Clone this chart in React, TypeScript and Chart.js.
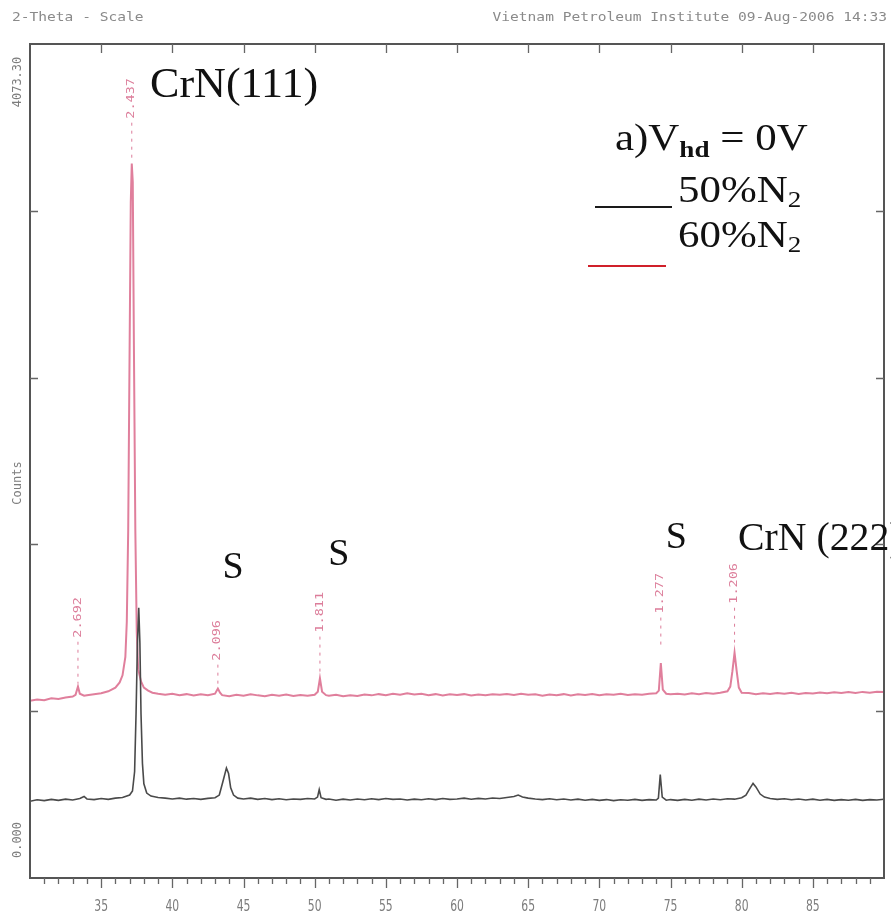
import React, { useEffect, useRef } from "react";
import { Chart, registerables } from "chart.js";

Chart.register(...registerables);

// ---------- data ----------
const X_MIN = 30;
const X_MAX = 90;
const Y_MIN = 0;
const Y_MAX = 4073.3;

const xMajorTicks = [35, 40, 45, 50, 55, 60, 65, 70, 75, 80, 85];
const yTickValues = [814.66, 1629.32, 2443.98, 3258.64];
const yBottomLabel = "0.000";
const yTopLabel = "4073.30";
const yAxisTitle = "Counts";
const headerLeft = "2-Theta - Scale";
const headerRight = "Vietnam Petroleum Institute 09-Aug-2006 14:33";

// 50% N2 (black trace): [2-theta, counts]
const series50: [number, number][] = [
  [30.0, 375], [30.5, 382], [31.0, 378], [31.5, 384], [32.0, 379], [32.5, 385],
  [33.0, 381], [33.5, 388], [33.8, 398], [34.0, 386], [34.5, 383], [35.0, 388],
  [35.5, 384], [36.0, 390], [36.5, 393], [37.0, 405], [37.2, 425], [37.35, 520],
  [37.45, 800], [37.55, 1150], [37.64, 1320], [37.72, 1150], [37.8, 800],
  [37.9, 560], [38.0, 460], [38.2, 415], [38.5, 400], [39.0, 393], [39.5, 390],
  [40.0, 386], [40.5, 390], [41.0, 385], [41.5, 388], [42.0, 384], [42.5, 389],
  [43.0, 392], [43.3, 405], [43.55, 470], [43.8, 537], [43.95, 510], [44.1, 440],
  [44.3, 405], [44.6, 390], [45.0, 386], [45.5, 390], [46.0, 384], [46.5, 388],
  [47.0, 383], [47.5, 387], [48.0, 382], [48.5, 386], [49.0, 384], [49.5, 388],
  [50.0, 386], [50.2, 395], [50.32, 432], [50.45, 392], [50.8, 384], [51.0, 386],
  [51.5, 380], [52.0, 385], [52.5, 381], [53.0, 386], [53.5, 382], [54.0, 387],
  [54.5, 383], [55.0, 388], [55.5, 384], [56.0, 386], [56.5, 381], [57.0, 385],
  [57.5, 382], [58.0, 387], [58.5, 383], [59.0, 388], [59.5, 384], [60.0, 386],
  [60.5, 390], [61.0, 385], [61.5, 389], [62.0, 386], [62.5, 391], [63.0, 388],
  [63.5, 393], [64.0, 398], [64.3, 405], [64.6, 396], [65.0, 390], [65.5, 386],
  [66.0, 383], [66.5, 387], [67.0, 382], [67.5, 386], [68.0, 381], [68.5, 385],
  [69.0, 380], [69.5, 384], [70.0, 379], [70.5, 383], [71.0, 378], [71.5, 382],
  [72.0, 380], [72.5, 384], [73.0, 379], [73.5, 383], [74.0, 381], [74.15, 390],
  [74.28, 505], [74.42, 395], [74.7, 380], [75.0, 383], [75.5, 379], [76.0, 384],
  [76.5, 380], [77.0, 385], [77.5, 381], [78.0, 386], [78.5, 382], [79.0, 387],
  [79.5, 385], [80.0, 392], [80.3, 405], [80.6, 440], [80.8, 462], [81.0, 445],
  [81.3, 410], [81.6, 395], [82.0, 388], [82.5, 384], [83.0, 387], [83.5, 382],
  [84.0, 386], [84.5, 381], [85.0, 385], [85.5, 380], [86.0, 384], [86.5, 379],
  [87.0, 383], [87.5, 380], [88.0, 384], [88.5, 379], [89.0, 383], [89.5, 381],
  [90.0, 385],
];

// 60% N2 (red trace): [2-theta, counts]
const series60: [number, number][] = [
  [30.0, 865], [30.5, 872], [31.0, 868], [31.5, 878], [32.0, 874], [32.5, 882],
  [33.0, 886], [33.2, 895], [33.37, 935], [33.5, 900], [33.8, 890], [34.0, 893],
  [34.5, 898], [35.0, 902], [35.5, 912], [36.0, 930], [36.3, 955], [36.5, 990],
  [36.7, 1080], [36.8, 1250], [36.9, 1700], [37.0, 2600], [37.08, 3300],
  [37.15, 3490], [37.22, 3400], [37.3, 2600], [37.4, 1700], [37.5, 1200],
  [37.6, 1020], [37.8, 960], [38.0, 930], [38.3, 915], [38.6, 905], [39.0, 900],
  [39.5, 895], [40.0, 900], [40.5, 893], [41.0, 898], [41.5, 892], [42.0, 897],
  [42.5, 893], [43.0, 900], [43.2, 925], [43.35, 905], [43.5, 893], [44.0, 888],
  [44.5, 895], [45.0, 890], [45.5, 897], [46.0, 892], [46.5, 888], [47.0, 895],
  [47.5, 890], [48.0, 896], [48.5, 889], [49.0, 894], [49.5, 890], [50.0, 895],
  [50.22, 910], [50.37, 975], [50.52, 910], [50.8, 893], [51.0, 890], [51.5, 895],
  [52.0, 888], [52.5, 893], [53.0, 889], [53.5, 896], [54.0, 892], [54.5, 898],
  [55.0, 893], [55.5, 900], [56.0, 895], [56.5, 902], [57.0, 896], [57.5, 900],
  [58.0, 893], [58.5, 898], [59.0, 892], [59.5, 897], [60.0, 894], [60.5, 898],
  [61.0, 891], [61.5, 896], [62.0, 893], [62.5, 898], [63.0, 895], [63.5, 899],
  [64.0, 894], [64.5, 900], [65.0, 895], [65.5, 897], [66.0, 890], [66.5, 896],
  [67.0, 893], [67.5, 898], [68.0, 892], [68.5, 897], [69.0, 894], [69.5, 899],
  [70.0, 893], [70.5, 898], [71.0, 895], [71.5, 900], [72.0, 894], [72.5, 898],
  [73.0, 895], [73.5, 900], [74.0, 902], [74.18, 915], [74.32, 1050], [74.46, 920],
  [74.7, 900], [75.0, 897], [75.5, 900], [76.0, 896], [76.5, 902], [77.0, 898],
  [77.5, 903], [78.0, 900], [78.5, 905], [79.0, 912], [79.2, 935], [79.35, 1010],
  [79.5, 1100], [79.65, 1010], [79.8, 930], [80.0, 905], [80.5, 903], [81.0, 898],
  [81.5, 902], [82.0, 899], [82.5, 904], [83.0, 900], [83.5, 905], [84.0, 899],
  [84.5, 904], [85.0, 901], [85.5, 906], [86.0, 902], [86.5, 907], [87.0, 903],
  [87.5, 908], [88.0, 904], [88.5, 909], [89.0, 905], [89.5, 910], [90.0, 908],
];

// d-spacing peak markers on the red trace
const peakAngles = [33.37, 37.15, 43.2, 50.37, 74.32, 79.5];
const peakLabels = ["2.692", "2.437", "2.096", "1.811", "1.277", "1.206"];
const peakLabelTop = [1372, 3907, 1260, 1397, 1490, 1538];
const peakDashEnd = [950, 3500, 935, 1000, 1120, 1150];

// phase annotations: [text, 2-theta, counts(baseline)]
const phaseLabels: [string, number, number][] = [
  ["CrN(111)", 38.43, 3815],
  ["S", 44.26, 1465],
  ["S", 51.7, 1530],
  ["S", 75.4, 1612],
  ["CrN (222)", 79.74, 1602],
];

const legendTitle = { main: "a)V", sub: "hd", rest: " = 0V" };
const legendItems = [
  { name: "50%N", sub: "2", color: "#1a1a1a" },
  { name: "60%N", sub: "2", color: "#d0202a" },
];

const COLOR_50 = "#4a4a4a";
const COLOR_60 = "#e07f9c";
const PINK_TEXT = "#dc7d9a";

function scaledText(ctx: CanvasRenderingContext2D, text: string, x: number, y: number, sx: number) {
  ctx.save();
  ctx.translate(x, y);
  ctx.scale(sx, 1);
  ctx.fillText(text, 0, 0);
  ctx.restore();
}

const overlayPlugin = {
  id: "xrdOverlay",
  beforeDraw(chart: any) {
    const { ctx, width, height } = chart;
    ctx.save();
    ctx.fillStyle = "#ffffff";
    ctx.fillRect(0, 0, width, height);
    ctx.restore();
  },
  afterDraw(chart: any) {
    const { ctx, chartArea: a, scales } = chart;
    const xs = scales.x;
    const ys = scales.y;
    ctx.save();

    // frame
    ctx.strokeStyle = "#555";
    ctx.lineWidth = 2;
    ctx.strokeRect(a.left, a.top, a.right - a.left, a.bottom - a.top);

    // bottom ticks (minor each degree, major each 5)
    ctx.strokeStyle = "#666";
    ctx.lineWidth = 1.3;
    ctx.beginPath();
    for (let v = X_MIN + 1; v < X_MAX; v++) {
      const px = Math.round(xs.getPixelForValue(v)) + 0.5;
      const len = xMajorTicks.includes(v) ? 10 : 6;
      ctx.moveTo(px, a.bottom);
      ctx.lineTo(px, a.bottom + len);
    }
    // top ticks (major, inward)
    for (const v of xMajorTicks) {
      const px = Math.round(xs.getPixelForValue(v)) + 0.5;
      ctx.moveTo(px, a.top);
      ctx.lineTo(px, a.top + 9);
    }
    // y ticks inward both sides
    for (const v of yTickValues) {
      const py = Math.round(ys.getPixelForValue(v)) + 0.5;
      ctx.moveTo(a.left, py);
      ctx.lineTo(a.left + 8, py);
      ctx.moveTo(a.right, py);
      ctx.lineTo(a.right - 8, py);
    }
    ctx.stroke();

    // x tick labels
    ctx.fillStyle = "#7d7d7d";
    ctx.font = "15px 'DejaVu Sans Condensed', 'DejaVu Sans', sans-serif";
    ctx.textAlign = "center";
    ctx.textBaseline = "middle";
    for (const v of xMajorTicks) {
      const px = xs.getPixelForValue(v);
      scaledText(ctx, String(v), px, a.bottom + 29, 0.8);
    }

    // y axis labels (rotated, reading bottom to top)
    ctx.font = "12px 'DejaVu Sans Mono', monospace";
    const yl = (text: string, cy: number) => {
      ctx.save();
      ctx.translate(18, cy);
      ctx.rotate(-Math.PI / 2);
      ctx.textAlign = "center";
      ctx.textBaseline = "middle";
      ctx.fillText(text, 0, 0);
      ctx.restore();
    };
    yl(yTopLabel, ys.getPixelForValue(Y_MAX) + 38);
    yl(yBottomLabel, ys.getPixelForValue(Y_MIN) - 38);
    yl(yAxisTitle, (a.top + a.bottom) / 2 + 22);

    // header
    ctx.font = "13px 'DejaVu Sans Mono', monospace";
    ctx.textBaseline = "middle";
    ctx.textAlign = "left";
    ctx.fillStyle = "#8a8a8a";
    scaledText(ctx, headerLeft, 12, 18, 1.12);
    ctx.textAlign = "right";
    scaledText(ctx, headerRight, 887, 18, 1.12);

    // peak d-spacing markers
    ctx.fillStyle = PINK_TEXT;
    ctx.strokeStyle = PINK_TEXT;
    ctx.font = "10px 'DejaVu Sans Mono', monospace";
    for (let i = 0; i < peakAngles.length; i++) {
      const px = xs.getPixelForValue(peakAngles[i]);
      const top = ys.getPixelForValue(peakLabelTop[i]);
      const end = ys.getPixelForValue(peakDashEnd[i]);
      ctx.save();
      ctx.translate(px, top);
      ctx.rotate(-Math.PI / 2);
      ctx.textAlign = "right";
      ctx.textBaseline = "middle";
      ctx.scale(1.35, 1);
      ctx.fillText(peakLabels[i], 0, 0);
      ctx.restore();
      const textLen = ctx.measureText(peakLabels[i]).width * 1.35;
      ctx.save();
      ctx.lineWidth = 1;
      ctx.setLineDash([3, 5]);
      ctx.beginPath();
      ctx.moveTo(px, top + textLen + 4);
      ctx.lineTo(px, end);
      ctx.stroke();
      ctx.restore();
    }

    const serif = "'Liberation Serif', 'Times New Roman', serif";

    // phase labels
    ctx.fillStyle = "#111";
    ctx.textBaseline = "alphabetic";
    for (const [text, ax, cy] of phaseLabels) {
      const isS = text === "S";
      const big = text.startsWith("CrN(");
      ctx.font = big ? `42px ${serif}` : isS ? `38px ${serif}` : `39px ${serif}`;
      const px = xs.getPixelForValue(ax);
      const py = ys.getPixelForValue(cy);
      ctx.textAlign = isS ? "center" : "left";
      scaledText(ctx, text, px, py, big ? 1.05 : isS ? 1.0 : 1.02);
    }
    ctx.textAlign = "left";

    // legend block (horizontally stretched like the scanned original)
    const SX = 1.13;
    ctx.save();
    ctx.translate(615, 0);
    ctx.scale(SX, 1);
    let lx = 0;
    const ly = 150;
    ctx.font = `38px ${serif}`;
    ctx.fillText(legendTitle.main, lx, ly);
    lx += ctx.measureText(legendTitle.main).width;
    ctx.font = `bold 24px ${serif}`;
    ctx.fillText(legendTitle.sub, lx, ly + 7);
    lx += ctx.measureText(legendTitle.sub).width;
    ctx.font = `38px ${serif}`;
    ctx.fillText(legendTitle.rest, lx, ly);
    ctx.restore();

    const itemY = [202, 247];
    const lineY = [207, 266];
    const lineX = [[595, 672], [588, 666]];
    legendItems.forEach((it, i) => {
      ctx.strokeStyle = it.color;
      ctx.lineWidth = 2;
      ctx.beginPath();
      ctx.moveTo(lineX[i][0], lineY[i]);
      ctx.lineTo(lineX[i][1], lineY[i]);
      ctx.stroke();
      ctx.save();
      ctx.translate(678, 0);
      ctx.scale(SX, 1);
      ctx.fillStyle = "#111";
      ctx.font = `38px ${serif}`;
      ctx.fillText(it.name, 0, itemY[i]);
      const w = ctx.measureText(it.name).width;
      ctx.font = `24px ${serif}`;
      ctx.fillText(it.sub, w, itemY[i] + 5);
      ctx.restore();
    });

    ctx.restore();
  },
};

export default function App() {
  const canvasRef = useRef<HTMLCanvasElement | null>(null);

  useEffect(() => {
    const canvas = canvasRef.current;
    if (!canvas) return;
    const chart = new Chart(canvas, {
      type: "line",
      data: {
        datasets: [
          {
            label: "50%N2",
            data: series50.map(([x, y]) => ({ x, y })),
            borderColor: COLOR_50,
            borderWidth: 1.6,
            pointRadius: 0,
            tension: 0,
            fill: false,
          },
          {
            label: "60%N2",
            data: series60.map(([x, y]) => ({ x, y })),
            borderColor: COLOR_60,
            borderWidth: 2,
            pointRadius: 0,
            tension: 0,
            fill: false,
          },
        ],
      },
      options: {
        animation: false,
        responsive: false,
        maintainAspectRatio: false,
        parsing: false,
        layout: { padding: { left: 30, right: 7, top: 44, bottom: 45 } },
        plugins: {
          legend: { display: false },
          tooltip: { enabled: false },
          title: { display: false },
        },
        scales: {
          x: { type: "linear", min: X_MIN, max: X_MAX, display: false },
          y: { type: "linear", min: Y_MIN, max: Y_MAX, display: false },
        },
      },
      plugins: [overlayPlugin],
    });
    return () => chart.destroy();
  }, []);

  return (
    <div style={{ position: "absolute", left: 0, top: 0, width: 891, height: 923, background: "#fff" }}>
      <canvas ref={canvasRef} width={891} height={923} style={{ width: 891, height: 923, display: "block" }} />
    </div>
  );
}
